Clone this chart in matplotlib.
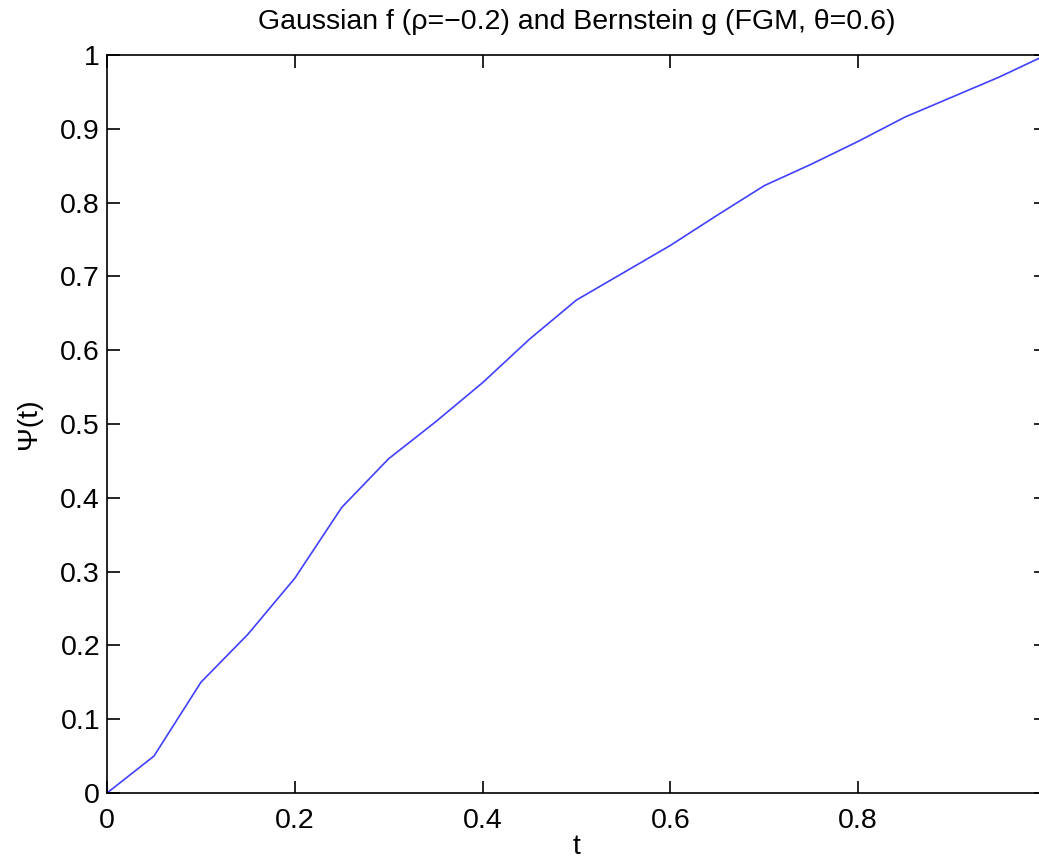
import matplotlib
matplotlib.use("Agg")
import matplotlib.pyplot as plt

t = [0, 0.05, 0.1, 0.15, 0.2, 0.25, 0.3, 0.35, 0.4, 0.45, 0.5,
     0.55, 0.6, 0.65, 0.7, 0.75, 0.8, 0.85, 0.9, 0.95, 1.0]
psi = [0, 0.05, 0.15, 0.215, 0.291, 0.387, 0.453, 0.503, 0.556, 0.615, 0.668,
       0.705, 0.742, 0.783, 0.823, 0.852, 0.883, 0.916, 0.943, 0.970, 1.0]
xticks = [0, 0.2, 0.4, 0.6, 0.8]
xticklabels = ["0", "0.2", "0.4", "0.6", "0.8"]
yticks = [0, 0.1, 0.2, 0.3, 0.4, 0.5, 0.6, 0.7, 0.8, 0.9, 1.0]
yticklabels = ["0", "0.1", "0.2", "0.3", "0.4", "0.5", "0.6", "0.7", "0.8", "0.9", "1"]

plt.rcParams['font.family'] = ['Liberation Sans', 'DejaVu Sans']

W, H = 1039, 863
fig = plt.figure(figsize=(W / 100, H / 100), dpi=100)
x0, x1 = 107, 1046
y0, y1 = 55, 793
ax = fig.add_axes([x0 / W, 1 - y1 / H, (x1 - x0) / W, (y1 - y0) / H])
ax.plot(t, psi, color=(0.25, 0.25, 1.0), lw=1.2)
ax.set_xlim(0, 1)
ax.set_ylim(0, 1)
ax.set_xticks(xticks)
ax.set_xticklabels(xticklabels)
ax.set_yticks(yticks)
ax.set_yticklabels(yticklabels)
ax.tick_params(direction='in', top=True, right=True, length=9, width=1.2,
               labelsize=20.5)
ax.tick_params(axis='x', pad=11)
ax.tick_params(axis='y', pad=5)
for s in ax.spines.values():
    s.set_linewidth(1.2)
ax.set_xlabel("t", fontsize=20.5, labelpad=0)
ax.set_ylabel("Ψ(t)", fontsize=20.5, labelpad=13)
ax.set_title("Gaussian f (ρ=−0.2) and Bernstein g (FGM, θ=0.6)", fontsize=20.5, pad=19)
fig.savefig("out.png", dpi=100)
